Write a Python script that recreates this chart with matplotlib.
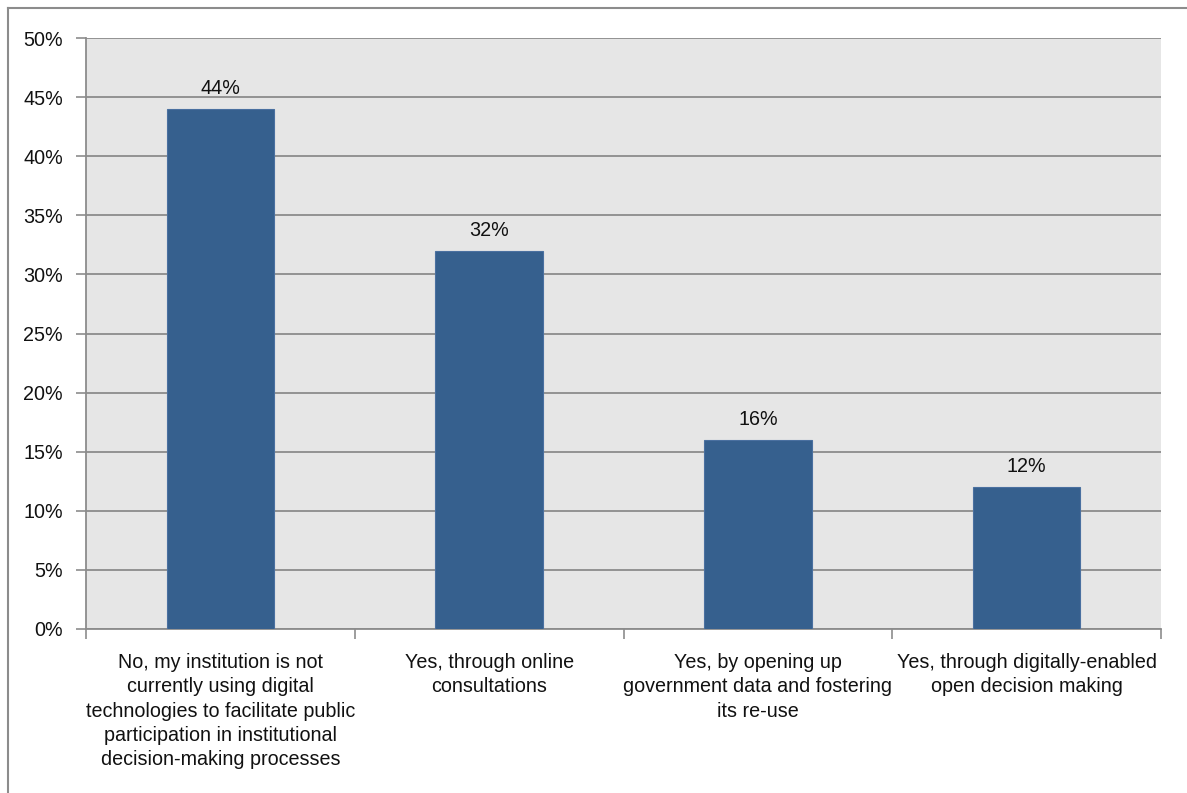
import matplotlib.pyplot as plt
from matplotlib.lines import Line2D
from matplotlib.ticker import MultipleLocator, FuncFormatter

plt.rcParams['font.family'] = ['Liberation Sans', 'DejaVu Sans']

categories = [
    "No, my institution is not\ncurrently using digital\ntechnologies to facilitate public\nparticipation in institutional\ndecision-making processes",
    "Yes, through online\nconsultations",
    "Yes, by opening up\ngovernment data and fostering\nits re-use",
    "Yes, through digitally-enabled\nopen decision making",
]
shares = [44, 32, 16, 12]
labels = ["44%", "32%", "16%", "12%"]

W, H = 1187, 793
fig = plt.figure(figsize=(W / 100, H / 100), dpi=100)
ax = fig.add_axes([86 / W, 1 - 629 / H, (1161 - 86) / W, (629 - 38) / H])

bar_col = "#36608E"
grid_col = "#8C8C8C"
txt_col = "#111111"
fs = 14.2

x = range(len(shares))
ax.bar(x, shares, width=0.40, color=bar_col, edgecolor="#4a70a0", linewidth=0.8, zorder=3)
for xi, v, lab in zip(x, shares, labels):
    ax.annotate(lab, (xi, v), xytext=(0, 8), textcoords="offset points",
                ha="center", va="bottom", fontsize=fs, color=txt_col)

ax.set_xlim(-0.5, len(shares) - 0.5)
ax.set_ylim(0, 50)
ax.set_facecolor("#E6E6E6")
ax.yaxis.set_major_locator(MultipleLocator(5))
ax.yaxis.set_major_formatter(FuncFormatter(lambda v, _: f"{v:.0f}%"))
ax.grid(axis="y", color=grid_col, linewidth=1.3, zorder=1)
ax.set_axisbelow(True)

for s in ["top", "right"]:
    ax.spines[s].set_visible(False)
ax.spines["left"].set_color(grid_col)
ax.spines["bottom"].set_color(grid_col)
ax.spines["left"].set_linewidth(1.3)
ax.spines["bottom"].set_linewidth(1.3)

ax.tick_params(axis="y", length=7, color=grid_col, width=1.2, labelsize=fs, pad=9.5, labelcolor=txt_col)

# category labels sit between the boundary ticks
ax.set_xticks([i - 0.5 for i in range(len(shares) + 1)])
ax.set_xticklabels([])
ax.tick_params(axis="x", length=7, color=grid_col, width=1.2)
ax.set_xticks(list(x), minor=True)
ax.set_xticklabels(categories, minor=True, fontsize=fs, color=txt_col, linespacing=1.34, va="top")
ax.tick_params(axis="x", which="minor", length=0, pad=17.5)

# outer frame
fig.add_artist(Line2D([8 / W, 1], [1 - 8 / H, 1 - 8 / H], color="#8C8C8C", linewidth=1.5))
fig.add_artist(Line2D([8 / W, 8 / W], [0, 1 - 8 / H], color="#8C8C8C", linewidth=1.5))

fig.savefig("out.png", dpi=100, facecolor="white")
